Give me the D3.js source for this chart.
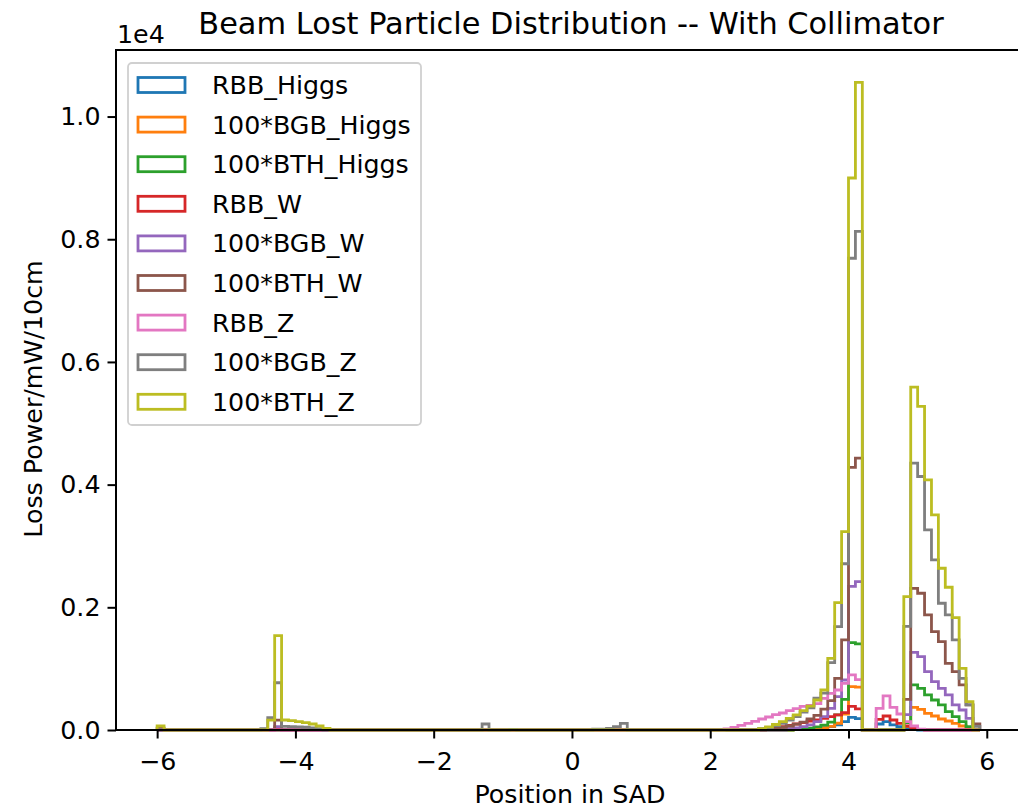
<!DOCTYPE html>
<html>
<head>
<meta charset="utf-8">
<script src="https://cdn.jsdelivr.net/npm/d3@7"></script>
<style>
  html, body { margin: 0; padding: 0; background: #fff; }
  svg { display: block; }
  text { font-family: "DejaVu Sans", sans-serif; fill: #000; }
</style>
</head>
<body>
<svg id="chart" width="1018" height="808"></svg>
<script>
// ---------------- DATA (bin left edge, value in mW/10cm) ----------------
const seriesNames = ["RBB_Higgs","100*BGB_Higgs","100*BTH_Higgs","RBB_W","100*BGB_W","100*BTH_W","RBB_Z","100*BGB_Z","100*BTH_Z"];
const seriesColors = ["#1f77b4","#ff7f0e","#2ca02c","#d62728","#9467bd","#8c564b","#e377c2","#7f7f7f","#bcbd22"];

const binFirst = -6.0, binLast = 5.9, binWidth = 0.1;

const RBB_Higgs = [[2.6,4],[2.7,6],[2.8,8],[2.9,10],[3.0,12],[3.1,15],[3.2,18],[3.3,22],[3.4,27],[3.5,30],[3.6,38],[3.7,54],[3.8,82],[3.9,136],[4.0,207],[4.1,185],
  [4.4,98],[4.5,136],[4.6,82],[4.7,54],[4.8,27],[4.9,8]];
const BGB_Higgs = [[3.2,6],[3.3,10],[3.4,15],[3.5,22],[3.6,35],[3.7,60],[3.8,110],[3.9,260],[4.0,707],[4.1,700],
  [4.8,60],[4.9,370],[5.0,337],[5.1,272],[5.2,228],[5.3,179],[5.4,147],[5.5,109],[5.6,65],[5.7,27]];
const BTH_Higgs = [[3.2,6],[3.3,12],[3.4,30],[3.5,50],[3.6,80],[3.7,130],[3.8,245],[3.9,500],[4.0,1425],[4.1,1405],
  [4.8,120],[4.9,734],[5.0,680],[5.1,571],[5.2,489],[5.3,408],[5.4,299],[5.5,217],[5.6,136],[5.7,54]];
const RBB_W = [[-4.3,30],[2.6,8],[2.7,11],[2.8,22],[2.9,38],[3.0,54],[3.1,76],[3.2,98],[3.3,120],[3.4,147],[3.5,163],[3.6,190],[3.7,217],[3.8,245],[3.9,282],[4.0,385],[4.1,345],
  [4.4,174],[4.5,228],[4.6,163],[4.7,109],[4.8,65],[4.9,30],[5.0,10]];
const BGB_W = [[-4.3,54],[3.1,20],[3.2,33],[3.3,54],[3.4,82],[3.5,136],[3.6,217],[3.7,353],[3.8,543],[3.9,815],[4.0,2340],[4.1,2420],
  [4.8,250],[4.9,1267],[5.0,1196],[5.1,951],[5.2,788],[5.3,680],[5.4,571],[5.5,408],[5.6,326],[5.7,190]];
const BTH_W = [[-6.0,30],[-4.3,160],[2.8,15],[2.9,28],[3.0,45],[3.1,65],[3.2,95],[3.3,130],[3.4,180],[3.5,240],[3.6,340],[3.7,480],[3.8,843],[3.9,1468],[4.0,4280],[4.1,4431],
  [4.8,500],[4.9,2310],[5.0,2229],[5.1,1876],[5.2,1604],[5.3,1441],[5.4,1087],[5.5,951],[5.6,734],[5.7,408],[5.8,100]];
const RBB_Z = [[2.2,16],[2.3,43],[2.4,76],[2.5,109],[2.6,141],[2.7,179],[2.8,212],[2.9,250],[3.0,277],[3.1,315],[3.2,348],[3.3,386],[3.4,400],[3.5,430],[3.6,517],[3.7,598],[3.8,652],[3.9,761],[4.0,900],[4.1,820],
  [4.4,353],[4.5,555],[4.6,370],[4.7,261],[4.8,136],[4.9,65],[5.0,12]];
const BGB_Z = [[-4.5,20],[-4.4,200],[-4.3,770],[-4.2,60],[-4.1,55],[-4.0,50],[-3.9,45],[-3.8,35],[-3.7,20],
  [-1.3,98],[-0.9,11],[0.3,12],[0.4,15],[0.5,25],[0.6,54],[0.7,109],
  [2.7,20],[2.8,40],[2.9,70],[3.0,110],[3.1,160],[3.2,220],[3.3,290],[3.4,360],[3.5,520],[3.6,600],[3.7,1098],[3.8,1685],[3.9,2710],[4.0,7690],[4.1,8127],
  [4.8,1690],[4.9,4349],[5.0,4132],[5.1,3262],[5.2,2773],[5.3,2066],[5.4,1876],[5.5,1468],[5.6,843],[5.7,408],[5.8,60]];
const BTH_Z = [[-6.0,65],[-4.4,160],[-4.3,1540],[-4.2,163],[-4.1,152],[-4.0,136],[-3.9,120],[-3.8,98],[-3.7,65],[-3.6,27],
  [2.7,20],[2.8,50],[2.9,90],[3.0,136],[3.1,190],[3.2,245],[3.3,315],[3.4,390],[3.5,489],[3.6,652],[3.7,1169],[3.8,2076],[3.9,3234],[4.0,8998],[4.1,10557],
  [4.8,2175],[4.9,5589],[5.0,5274],[5.1,4078],[5.2,3507],[5.3,2637],[5.4,2327],[5.5,1832],[5.6,1006],[5.7,462]];

const seriesData = [RBB_Higgs, BGB_Higgs, BTH_Higgs, RBB_W, BGB_W, BTH_W, RBB_Z, BGB_Z, BTH_Z];

const xTicks = [-6,-4,-2,0,2,4,6];
const yTicks = [0, 2000, 4000, 6000, 8000, 10000];

// ---------------- LAYOUT ----------------
const svg = d3.select("#chart");
const plot = {left: 116, top: 50, right: 1021, bottom: 730};
const FS = 25.3;        // tick / label / legend font size
const TITLE_FS = 30.4;

const xDomainLo = binFirst - 0.05*(binLast - binFirst);
const xDomainHi = binLast + 0.05*(binLast - binFirst);
const yMax = 10557 * 1.05;

const x = d3.scaleLinear().domain([xDomainLo, xDomainHi]).range([plot.left, plot.right]);
const y = d3.scaleLinear().domain([0, yMax]).range([plot.bottom, plot.top]);

const nBins = Math.round((binLast - binFirst)/binWidth);
const edges = d3.range(nBins + 1).map(i => Math.round((binFirst + i*binWidth)*10)/10);

svg.append("defs").append("clipPath").attr("id","clip")
  .append("rect").attr("x", plot.left).attr("y", plot.top - 2)
  .attr("width", plot.right - plot.left).attr("height", plot.bottom - plot.top + 4);

const line = d3.line().x(d => x(d[0])).y(d => y(d[1]));

const g = svg.append("g").attr("clip-path","url(#clip)");
seriesData.forEach((arr, si) => {
  const map = new Map(arr.map(d => [d[0].toFixed(1), d[1]]));
  const pts = [[edges[0], 0]];
  for (let i = 0; i < nBins; i++) {
    const v = map.get(edges[i].toFixed(1)) || 0;
    pts.push([edges[i], v]);
    pts.push([edges[i+1], v]);
  }
  pts.push([edges[nBins], 0]);
  g.append("path").attr("d", line(pts))
    .attr("fill","none").attr("stroke", seriesColors[si])
    .attr("stroke-width", 2.8).attr("stroke-linejoin","miter");
});

// ---------------- AXES ----------------
const axisColor = "#000";
svg.append("rect").attr("x", plot.left).attr("y", plot.top)
  .attr("width", plot.right - plot.left).attr("height", plot.bottom - plot.top)
  .attr("fill","none").attr("stroke", axisColor).attr("stroke-width", 2);

const xAxis = svg.append("g").attr("transform", `translate(0,${plot.bottom})`)
  .call(d3.axisBottom(x).tickValues(xTicks).tickSize(8.5).tickPadding(14)
    .tickFormat(d => d < 0 ? "\u2212" + Math.abs(d) : d));
xAxis.select(".domain").remove();
xAxis.selectAll(".tick line").attr("stroke", axisColor).attr("stroke-width", 2);
xAxis.selectAll(".tick text").attr("font-size", FS).attr("font-family","DejaVu Sans").attr("fill","#000");

const yAxis = svg.append("g").attr("transform", `translate(${plot.left},0)`)
  .call(d3.axisLeft(y).tickValues(yTicks).tickSize(8.5).tickPadding(7)
    .tickFormat(d => (d/10000).toFixed(1)));
yAxis.select(".domain").remove();
yAxis.selectAll(".tick line").attr("stroke", axisColor).attr("stroke-width", 2);
yAxis.selectAll(".tick text").attr("font-size", FS).attr("font-family","DejaVu Sans").attr("fill","#000");

// offset text
svg.append("text").attr("x", plot.left + 1).attr("y", 43).attr("font-size", FS).text("1e4");

// title
svg.append("text").attr("x", 571).attr("y", 34).attr("text-anchor","middle")
  .attr("font-size", TITLE_FS).text("Beam Lost Particle Distribution -- With Collimator");

// axis labels
svg.append("text").attr("x", 570).attr("y", 803).attr("text-anchor","middle")
  .attr("font-size", FS).text("Position in SAD");
svg.append("text").attr("transform", "translate(42,399) rotate(-90)").attr("text-anchor","middle")
  .attr("font-size", FS).text("Loss Power/mW/10cm");

// ---------------- LEGEND ----------------
const leg = svg.append("g").attr("transform", "translate(128,63)");
leg.append("rect").attr("x", 0).attr("y", 0).attr("width", 293).attr("height", 362)
  .attr("rx", 4).attr("fill","#fff").attr("fill-opacity",0.8)
  .attr("stroke","#d0d0d0").attr("stroke-width", 1.8);
seriesNames.forEach((name, i) => {
  const cy = 22 + i*39.6;
  leg.append("rect").attr("x", 10).attr("y", cy - 7.5).attr("width", 47).attr("height", 15)
    .attr("fill","none").attr("stroke", seriesColors[i]).attr("stroke-width", 2.8);
  leg.append("text").attr("x", 84).attr("y", cy + 9).attr("font-size", FS).text(name);
});
</script>
</body>
</html>
